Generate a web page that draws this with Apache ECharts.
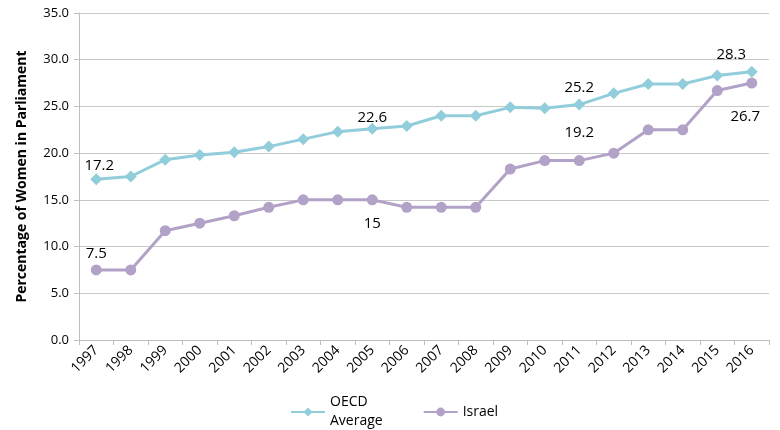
<!DOCTYPE html>
<html><head><meta charset="utf-8">
<script src="https://cdn.jsdelivr.net/npm/echarts@6/dist/echarts.min.js"></script>
<style>html,body{margin:0;padding:0;background:#fff}#c{width:780px;height:430px}</style>
</head><body><div id="c"></div>
<script>
var years = ['1997','1998','1999','2000','2001','2002','2003','2004','2005','2006','2007','2008','2009','2010','2011','2012','2013','2014','2015','2016'];
var oecd = [17.2,17.5,19.3,19.8,20.1,20.7,21.5,22.3,22.6,22.9,24.0,24.0,24.9,24.8,25.2,26.4,27.4,27.4,28.3,28.7];
var israel = [7.5,7.5,11.7,12.5,13.3,14.2,15,15,15,14.2,14.2,14.2,18.3,19.2,19.2,20.0,22.5,22.5,26.7,27.5];
var oecdLabelIdx = [0,8,14,18];
var israelLabelIdx = [0,8,14,18];

var font = 'Open Sans';
var labelStyles = {
  oecd: {0:{position:'top',offset:[3,5]},8:{position:'top',offset:[0,7]},14:{position:'top',offset:[0,2]},18:{position:'top',offset:[14,-2]}},
  israel: {0:{position:'top',offset:[0,2]},8:{position:'bottom',offset:[0,6]},14:{position:'top',offset:[0,-10]},18:{position:'bottom',offset:[28,8]}}
};
function build(vals, idx, styles){
  return vals.map(function(v,i){
    if (idx.indexOf(i) >= 0){
      var s = styles[i];
      return {value:v, label:{show:true, position:s.position, offset:s.offset, color:'#000', fontSize:15, fontFamily:font}};
    }
    return v;
  });
}
var chart = echarts.init(document.getElementById('c'));
chart.setOption({
  animation:false,
  grid:{left:79,right:11,top:13,bottom:90},
  legend:{
    left:285, top:388, itemWidth:34, itemHeight:11, itemGap:40,
    textStyle:{fontFamily:font,fontSize:14,color:'#000',lineHeight:19},
    formatter:function(n){return n.replace(' ','\n');},
    data:['OECD Average','Israel']
  },
  xAxis:{
    type:'category', data:years, boundaryGap:true,
    axisLine:{lineStyle:{color:'#bfbfbf'}},
    axisTick:{show:true,length:5,lineStyle:{color:'#bfbfbf'},alignWithLabel:false},
    axisLabel:{rotate:45,fontFamily:font,fontSize:14,color:'#000',margin:8,interval:0}
  },
  yAxis:{
    type:'value', min:0, max:35, interval:5,
    name:'Percentage of Women in Parliament', nameLocation:'middle', nameGap:50,
    nameTextStyle:{fontFamily:font,fontSize:14,fontWeight:'bold',color:'#000'},
    axisLine:{show:true,lineStyle:{color:'#bfbfbf'}},
    axisTick:{show:true,length:5,lineStyle:{color:'#bfbfbf'}},
    splitLine:{lineStyle:{color:'#c8c8c8'}},
    axisLabel:{formatter:function(v){return v.toFixed(1);},fontFamily:font,fontSize:13,color:'#000',margin:10}
  },
  series:[
    {name:'OECD Average', type:'line', data:build(oecd,oecdLabelIdx,labelStyles.oecd),
     symbol:'diamond', symbolSize:12, lineStyle:{width:3,color:'#92CDDC'}, itemStyle:{color:'#92CDDC'}, z:3},
    {name:'Israel', type:'line', data:build(israel,israelLabelIdx,labelStyles.israel),
     symbol:'circle', symbolSize:11, lineStyle:{width:3,color:'#B3A2C7'}, itemStyle:{color:'#B3A2C7'}, z:2}
  ]
});
</script></body></html>
